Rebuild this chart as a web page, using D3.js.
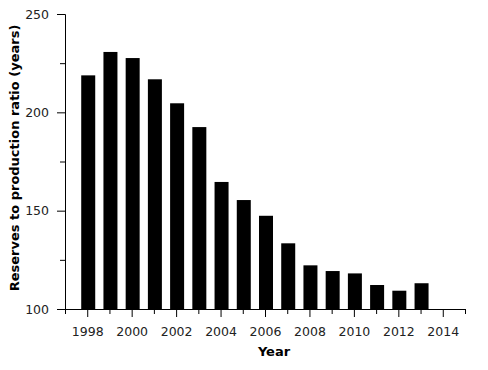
<!DOCTYPE html>
<html>
    <head>
        <script src="https://d3js.org/d3.v7.min.js"></script>
        <style>
            body{margin:0;background:#fff;}
            text{font-family:"DejaVu Sans", sans-serif;}
        </style>
    </head>
    <body>
        <svg height="370" width="488" id="chart"></svg>
        <script>
            // reserves to production ratio
            const years=[1998,1999,2000,2001,2002,2003,2004,2005,2006,2007,2008,2009,2010,2011,2012,2013];
            const ratio=[218.8,230.7,227.6,216.8,204.6,192.5,164.6,155.4,147.4,133.4,122.2,119.3,118.1,112.2,109.3,113.1];
            const xMajor=[1998,2000,2002,2004,2006,2008,2010,2012,2014];
            const xMinor=[1997,1999,2001,2003,2005,2007,2009,2011,2013,2015];
            const yMajor=[100,150,200,250];
            const yMinor=[125,175,225];

            let svg=d3.select("#chart");
            let x=d3.scaleLinear().domain([1997,2015]).range([65,465]);
            let y=d3.scaleLinear().domain([100,250]).range([309,14]);
            let barW=0.63;

            svg.append("g").selectAll("rect")
                .data(years)
                .enter().append("rect")
                .attr("x", (d)=>x(d-barW/2)+1)
                .attr("width", (d)=>x(d+barW/2)-x(d-barW/2))
                .attr("y", (d,i)=>y(ratio[i]))
                .attr("height", (d,i)=>y(100)-y(ratio[i]))
                .style("fill", "black")

            let xAx=svg.append("g").attr("transform", "translate(0,309)")
            xAx.call(d3.axisBottom(x).tickValues(xMajor).tickFormat(d3.format("d")).tickSize(8).tickSizeOuter(0).tickPadding(10))
            xAx.append("g").call(d3.axisBottom(x).tickValues(xMinor).tickFormat("").tickSize(5).tickSizeOuter(0))
            xAx.selectAll("text").style("font-size", "12.5px").style("fill", "#222")

            let yAx=svg.append("g").attr("transform", "translate(65,0)")
            yAx.call(d3.axisLeft(y).tickValues(yMajor).tickFormat(d3.format("d")).tickSize(8).tickSizeOuter(0).tickPadding(8))
            yAx.append("g").call(d3.axisLeft(y).tickValues(yMinor).tickFormat("").tickSize(5).tickSizeOuter(0))
            yAx.selectAll("text").style("font-size", "12.5px").style("fill", "#222")
            svg.selectAll(".domain, .tick line").style("stroke", "black")

            svg.append("text")
                .attr("x", 274).attr("y", 356)
                .attr("text-anchor", "middle")
                .style("font-size", "13px").style("font-weight", "bold")
                .text("Year")

            svg.append("text")
                .attr("transform", "rotate(-90)")
                .attr("x", -158).attr("y", 19)
                .attr("text-anchor", "middle")
                .style("font-size", "13px").style("font-weight", "bold")
                .text("Reserves to production ratio (years)")
        </script>
    </body>
</html>
